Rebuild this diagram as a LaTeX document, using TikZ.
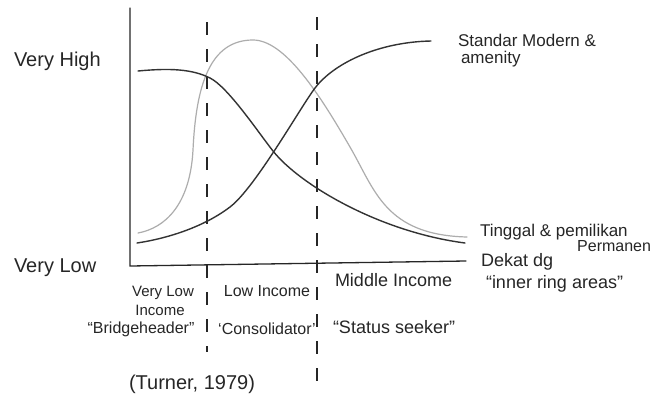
\documentclass[tikz,border=0pt]{standalone}
\usepackage{fontspec}
\setmainfont{Liberation Sans}
\begin{document}
\begin{tikzpicture}[x=1pt,y=-1pt,
  lbl/.style={inner sep=0pt, outer sep=0pt, text=black!85, font=\fontsize{18}{20}\selectfont},
  lblbig/.style={lbl, font=\fontsize{20}{22}\selectfont},
  lblmd/.style={lbl, font=\fontsize{17}{19}\selectfont},
  lblsm/.style={lbl, font=\fontsize{16}{18}\selectfont},
  lblxs/.style={lbl, font=\fontsize{15}{17}\selectfont},
  axisline/.style={line width=1.3pt, black!85, line cap=round},
  divider/.style={line width=1.4pt, black!85, dash pattern=on 13pt off 14pt},
  darkcurve/.style={line width=1.4pt, black!80, line cap=round, line join=round},
  graycurve/.style={line width=1.2pt, black!32, line cap=round, line join=round}]
\useasboundingbox (0,0) rectangle (653,394);
\fill[white] (0,0) rectangle (653,394);

% axes
\coordinate (ytop) at (130,8);
\coordinate (origin) at (130,266);
\coordinate (xend) at (466,261);
\draw[axisline] (ytop) -- (origin) -- (xend);

% dividers
\coordinate (d1top) at (207,22);
\coordinate (d1bot) at (207,352);
\coordinate (d2top) at (317,17);
\coordinate (d2bot) at (317,394);
\draw[divider] (d1top) -- (d1bot);
\draw[divider] (d2top) -- (d2bot);

% gray bell curve (Tinggal & pemilikan Permanen)
\coordinate (gs) at (138,233);
\coordinate (ge) at (467,237);
\draw[graycurve] (gs) .. controls (165,228) and (190,205) .. (193,150)
  .. controls (196,85) and (210,40) .. (253,40)
  .. controls (285,40) and (320,95) .. (350,147)
  .. controls (375,190) and (385,235) .. (ge);

% declining curve (Dekat dg inner ring areas)
\coordinate (ds) at (138,71);
\coordinate (de) at (465,243);
\draw[darkcurve] (ds) .. controls (170,68) and (192,69) .. (210,78)
  .. controls (228,87) and (258,132) .. (273,151)
  .. controls (300,185) and (380,232) .. (de);

% rising curve (Standar Modern & amenity)
\coordinate (rs) at (137,243);
\coordinate (re) at (431,41);
\draw[darkcurve] (rs) .. controls (170,238) and (205,226) .. (230,207)
  .. controls (255,188) and (300,108) .. (315,88)
  .. controls (335,62) and (380,42) .. (re);

% axis labels
\node[lblbig, anchor=base west] (vhigh) at (14,66) {Very High};
\node[lblbig, anchor=base west] (vlow) at (14,272) {Very Low};

% curve labels
\node[lblmd, anchor=base west] (std) at (458,46) {Standar Modern \&};
\node[lblmd, anchor=base west] (amen) at (461,63) {amenity};
\node[lblmd, anchor=base west] (tinggal) at (480,236) {Tinggal \& pemilikan};
\node[lblsm, anchor=base east] (perm) at (651,251) {Permanen};
\node[lbl, anchor=base west] (dekat) at (481,266) {Dekat dg};
\node[lbl, anchor=base west] (inner) at (486,288) {``inner ring areas''};

% column labels
\node[lblxs, anchor=base] (c1a) at (163,296) {Very Low};
\node[lblxs, anchor=base] (c1b) at (160,315) {Income};
\node[lblsm, anchor=base] (c1c) at (141,333) {``Bridgeheader''};
\node[lblsm, anchor=base] (c2a) at (267,296) {Low Income};
\node[lblsm, anchor=base] (c2b) at (267,334) {`Consolidator'};
\node[lbl, anchor=base west] (c3a) at (335,286) {Middle Income};
\node[lbl, anchor=base west] (c3b) at (333,333) {``Status seeker''};

\node[lblbig, anchor=base] (turner) at (192,389) {(Turner, 1979)};
\end{tikzpicture}
\end{document}
